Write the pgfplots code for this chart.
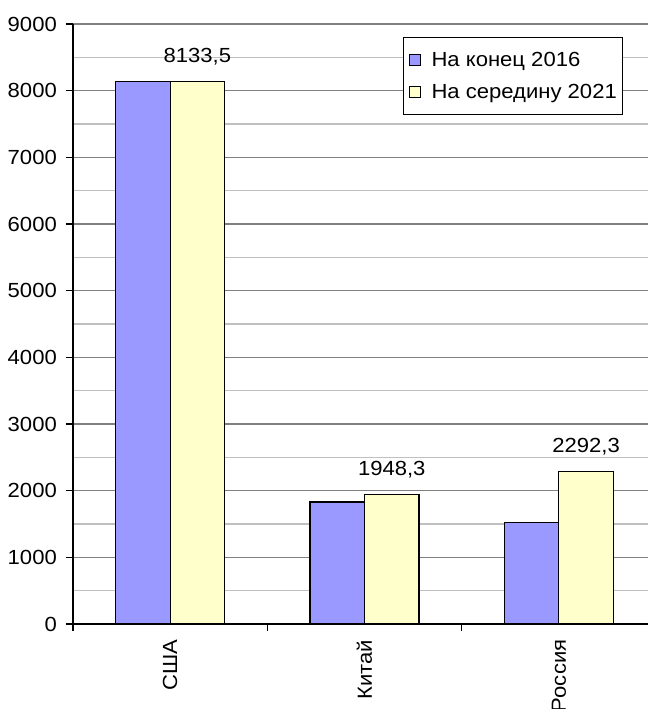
\documentclass[border=0pt]{standalone}
\usepackage{pgfplots}
\pgfplotsset{compat=1.18}
\usepackage{fontspec}
\setmainfont{Liberation Sans}[FakeStretch=1.08]
\definecolor{barblue}{HTML}{9999FF}
\definecolor{baryellow}{HTML}{FFFFCC}
\definecolor{majgrid}{HTML}{808080}
\definecolor{mingrid}{HTML}{C0C0C0}
\begin{document}
\begin{tikzpicture}
\useasboundingbox (-73bp,-85bp) rectangle (575bp,624bp);
\clip (-73bp,-85bp) rectangle (575bp,624bp);
\begin{axis}[
  at={(0,0)}, anchor=south west,
  scale only axis,
  width=583bp, height=600bp,
  xmin=-0.5, xmax=2.5,
  ymin=0, ymax=9000,
  ybar=0pt, bar width=54.5bp,
  axis x line*=bottom, axis y line*=left,
  axis line style={-, line width=1.2bp, black},
  ytick={0,1000,...,9000},
  minor y tick num=1,
  ymajorgrids, yminorgrids,
  major grid style={majgrid, line width=1.2bp},
  minor grid style={mingrid, line width=1.2bp},
  tick align=outside,
  major tick length=7bp, minor tick length=0pt,
  tick style={black, line width=1.2bp},
  xtick={0,1,2},
  xticklabels={США,Китай,Россия},
  xtick style={draw=none},
  extra x ticks={-0.5,0.5,1.5},
  extra x tick labels={},
  extra x tick style={xtick style={draw=black, line width=1.2bp}, major tick length=7bp, grid=none},
  xticklabel style={yshift=-8.5bp, rotate=90, anchor=east, inner sep=0pt},
  yticklabel style={inner sep=0pt, xshift=-9bp},
  ticklabel style={font=\fontsize{20.5}{24}\selectfont},
  scaled y ticks=false,
  /pgf/number format/assume math mode=true,
  /pgf/number format/set thousands separator={},
  legend style={at={(rel axis cs:0.566,0.978)}, anchor=north west,
    draw=black, fill=white, line width=1.2bp, font=\fontsize{20.5}{24}\selectfont,
    inner xsep=4bp, inner ysep=12bp, row sep=13bp, cells={anchor=west}},
  legend image code/.code={\draw[#1, draw=black, line width=1bp] (2bp,-5.5bp) rectangle (13bp,5.5bp); \path[draw=none, fill=none] (0bp,0bp) -- (22bp,0bp);},
  legend cell align=left,
]
\addplot[fill=barblue, draw=black, line width=1.2bp] coordinates {(0,8133.5) (1,1830) (2,1527)};
\addlegendentry{На конец 2016}
\addplot[fill=baryellow, draw=black, line width=1.2bp,
  nodes near coords, point meta=explicit symbolic,
  every node near coord/.append style={anchor=base, yshift=19bp, inner sep=0pt, font=\fontsize{20.5}{24}\selectfont, text=black}]
  coordinates {(0,8133.5) [8133,5] (1,1948.3) [1948,3] (2,2292.3) [2292,3]};
\addlegendentry{На середину 2021}
\end{axis}
\end{tikzpicture}
\end{document}
